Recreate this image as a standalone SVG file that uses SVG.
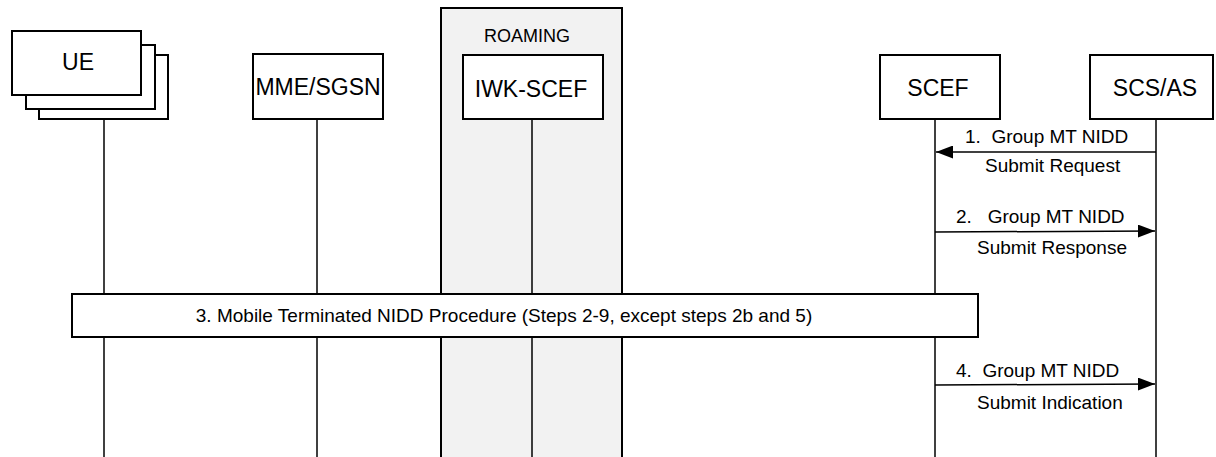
<svg xmlns="http://www.w3.org/2000/svg" width="1216" height="457" viewBox="0 0 1216 457">
<style>
.box{fill:#fff;stroke:#000;stroke-width:2}
.life{stroke:#000;stroke-width:1.5;fill:none}
.msg{stroke:#000;stroke-width:1.5;fill:none}
text{font-family:"Liberation Sans",Arial,sans-serif;fill:#000;white-space:pre}
.n{font-size:23px;text-anchor:middle}
.m{font-size:19px}
</style>
<defs>
<marker id="ah" viewBox="0 0 17 13" refX="17" refY="6.5" markerWidth="17" markerHeight="13" markerUnits="userSpaceOnUse" orient="auto">
<path d="M0,0 L17,6.5 L0,13 Z" fill="#000"/>
</marker>
</defs>
<g id="roaming">
<rect x="441" y="8" width="181" height="460" fill="#f2f2f2" stroke="#000" stroke-width="2"/>
<text x="527" y="42" font-size="18" text-anchor="middle">ROAMING</text>
</g>
<g id="lifelines">
<line class="life" x1="104" y1="119" x2="104" y2="457"/>
<line class="life" x1="317" y1="119" x2="317" y2="457"/>
<line class="life" x1="532" y1="119" x2="532" y2="457"/>
<line class="life" x1="935" y1="119" x2="935" y2="457"/>
<line class="life" x1="1156" y1="119" x2="1156" y2="457"/>
</g>
<g id="ue">
<rect class="box" x="39" y="55" width="129" height="64"/>
<rect class="box" x="26" y="45" width="129" height="64"/>
<rect class="box" x="12" y="31" width="129" height="64"/>
<text class="n" x="78" y="70" font-size="21">UE</text>
</g>
<g id="mme">
<rect class="box" x="253" y="54" width="130" height="65"/>
<text class="n" x="318" y="95" font-size="24">MME/SGSN</text>
</g>
<g id="iwk">
<rect class="box" x="463" y="55" width="140" height="64"/>
<text class="n" x="531" y="97" font-size="26">IWK-SCEF</text>
</g>
<g id="scef">
<rect class="box" x="880" y="55" width="120" height="64"/>
<text class="n" x="938" y="96" font-size="23">SCEF</text>
</g>
<g id="scsas">
<rect class="box" x="1090" y="55" width="123" height="64"/>
<text class="n" x="1155" y="96" font-size="24">SCS/AS</text>
</g>
<g id="connectors">
<line class="msg" x1="1156" y1="152" x2="936" y2="152" marker-end="url(#ah)"/>
<line class="msg" x1="935" y1="232" x2="1155" y2="231" marker-end="url(#ah)"/>
<line class="msg" x1="935" y1="385" x2="1155" y2="384" marker-end="url(#ah)"/>
</g>
<g id="labels">
<text class="m" x="965" y="143">1.  Group MT NIDD</text>
<text class="m" x="985" y="172">Submit Request</text>
<text class="m" x="956" y="223">2.   Group MT NIDD</text>
<text class="m" x="977" y="254">Submit Response</text>
<text class="m" x="956" y="377">4.  Group MT NIDD</text>
<text class="m" x="977" y="409">Submit Indication</text>
</g>
<g id="step3">
<rect class="box" x="72" y="294" width="906" height="43"/>
<text x="504" y="322" font-size="19" text-anchor="middle">3. Mobile Terminated NIDD Procedure (Steps 2-9, except steps 2b and 5)</text>
</g>
</svg>
